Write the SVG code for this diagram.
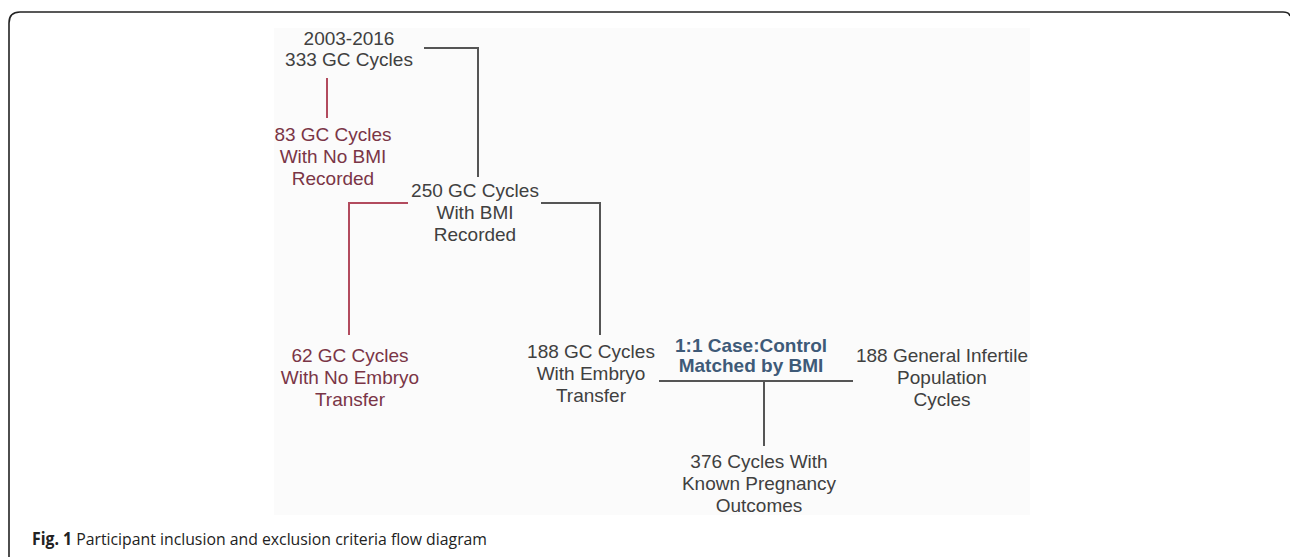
<svg xmlns="http://www.w3.org/2000/svg" width="1290" height="557" viewBox="0 0 1290 557">
<style>
.t{font-family:"Liberation Sans",Arial,sans-serif;font-size:19px;fill:#404040;text-anchor:middle}
.r{fill:#7a3546}
.b{font-weight:bold;fill:#3e5a78}
.ln{fill:none;stroke:#555;stroke-width:2}
.lr{fill:none;stroke:#b24b5e;stroke-width:2}
.cap{font-family:"Open Sans","Liberation Sans",sans-serif;font-size:17px;fill:#222}
</style>
<rect width="1290" height="557" fill="#fff"/>
<path d="M9,557 V23 Q9,12 20,12 H1283 Q1289,12 1290,16" fill="none" stroke="#222" stroke-width="1.6"/>
<rect x="274" y="28" width="756" height="487" fill="#fbfbfb"/>
<g id="connectors">
<path class="ln" d="M424,48 H478 V177"/>
<path class="lr" d="M327,78 V118"/>
<path class="lr" d="M408,203 H349 V335"/>
<path class="ln" d="M541,203 H600 V335"/>
<path class="ln" d="M659,381 H853"/>
<path class="ln" d="M764,381 V446"/>
</g>
<g id="n333"><text class="t" x="349" y="45">2003-2016</text><text class="t" x="349" y="66">333 GC Cycles</text></g>
<g id="n83"><text class="t r" x="333" y="141">83 GC Cycles</text><text class="t r" x="333" y="163">With No BMI</text><text class="t r" x="333" y="185">Recorded</text></g>
<g id="n250"><text class="t" x="475" y="197">250 GC Cycles</text><text class="t" x="475" y="219">With BMI</text><text class="t" x="475" y="241">Recorded</text></g>
<g id="n62"><text class="t r" x="350" y="362">62 GC Cycles</text><text class="t r" x="350" y="384">With No Embryo</text><text class="t r" x="350" y="406">Transfer</text></g>
<g id="n188"><text class="t" x="591" y="358">188 GC Cycles</text><text class="t" x="591" y="380">With Embryo</text><text class="t" x="591" y="402">Transfer</text></g>
<g id="match"><text class="t b" x="751" y="352">1:1 Case:Control</text><text class="t b" x="751" y="372">Matched by BMI</text></g>
<g id="ngen"><text class="t" x="942" y="362">188 General Infertile</text><text class="t" x="942" y="384">Population</text><text class="t" x="942" y="406">Cycles</text></g>
<g id="n376"><text class="t" x="759" y="468">376 Cycles With</text><text class="t" x="759" y="490">Known Pregnancy</text><text class="t" x="759" y="512">Outcomes</text></g>
<text class="cap" x="32" y="545" textLength="455" lengthAdjust="spacingAndGlyphs"><tspan font-weight="bold">Fig. 1</tspan> Participant inclusion and exclusion criteria flow diagram</text>
</svg>
